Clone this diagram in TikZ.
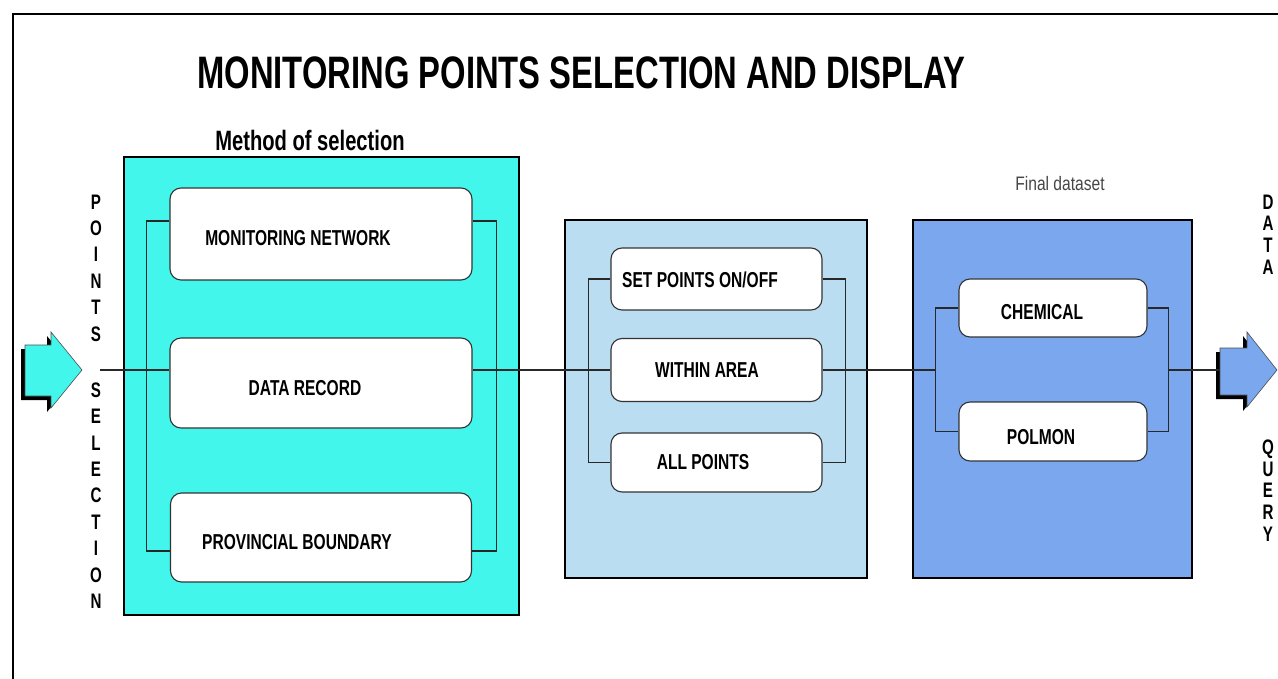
\documentclass[tikz,border=0pt]{standalone}
\usepackage{fontspec}
\setmainfont{Liberation Sans}
\newfontfamily\narrowsans[FakeStretch=0.8]{Liberation Sans}
\newfontfamily\slimsans[FakeStretch=0.72]{Liberation Sans}
\definecolor{panelcyan}{RGB}{66,246,236}
\definecolor{panelsky}{RGB}{186,221,241}
\definecolor{panelblue}{RGB}{122,167,238}
\definecolor{wirecol}{RGB}{40,40,40}
\definecolor{captiongray}{RGB}{70,70,70}
\tikzset{
  panel/.style={draw=black, line width=1.3pt, inner sep=0pt, rectangle},
  choice/.style={draw=black!80, fill=white, rounded corners=11pt, line width=1.1pt, inner sep=0pt, rectangle},
  ctext/.style={font=\slimsans\bfseries\fontsize{21.6}{21.6}\selectfont, inner sep=0pt},
  wire/.style={draw=wirecol, line width=1.3pt},
  stack/.style={font=\slimsans\bfseries\fontsize{21}{21.8}\selectfont, align=center, inner sep=0pt, anchor=north},
  widestack/.style={stack, font=\slimsans\bfseries\fontsize{21}{26.4}\selectfont},
  blockarrow/.style={draw=black!70, line width=0.6pt, line join=miter},
  arrowshadow/.style={fill=black, draw=none}
}
\begin{document}
\begin{tikzpicture}[x=1pt, y=-1pt]
  \useasboundingbox (0,0) rectangle (1278,679);
  \fill[white] (0,0) rectangle (1278,679);

  % outer frame (open to the right and bottom)
  \draw[line width=1.8pt] (13,679) -- (13,14) -- (1278,14);

  % title and captions
  \node[inner sep=0pt, font=\slimsans\bfseries\fontsize{45.5}{45.5}\selectfont] (title) at (581.5,73) {MONITORING POINTS SELECTION AND DISPLAY};
  \node[inner sep=0pt, font=\slimsans\bfseries\fontsize{28}{28}\selectfont] (methodcap) at (310,140) {Method of selection};
  \node[inner sep=0pt, text=captiongray, font=\narrowsans\fontsize{19.5}{19.5}\selectfont] (finalcap) at (1060,184) {Final dataset};

  % coloured panels
  \node[panel, fill=panelcyan, minimum width=395pt, minimum height=458pt] (method) at (321.5,386) {};
  \node[panel, fill=panelsky, minimum width=302pt, minimum height=358pt] (filter) at (716,399) {};
  \node[panel, fill=panelblue, minimum width=279pt, minimum height=358pt] (final) at (1052.5,399) {};

  % input arrow
  \fill[arrowshadow, shift={(-4,4)}] (25,345) -- (51,345) -- (51,332) -- (82,370) -- (51,408) -- (51,396) -- (25,396) -- cycle;
  \filldraw[blockarrow, fill=panelcyan] (25,345) -- (51,345) -- (51,332) -- (82,370) -- (51,408) -- (51,396) -- (25,396) -- cycle;
  % output arrow
  \fill[arrowshadow, shift={(-4,4)}] (1220,348) -- (1247,348) -- (1247,332) -- (1277,370) -- (1247,407) -- (1247,395) -- (1220,395) -- cycle;
  \filldraw[blockarrow, fill=panelblue] (1220,348) -- (1247,348) -- (1247,332) -- (1277,370) -- (1247,407) -- (1247,395) -- (1220,395) -- cycle;
  \coordinate (feed) at (100,370);
  \coordinate (outarrow) at (1220,370);

  % selection choices
  \node[choice, minimum width=302pt, minimum height=92pt] (mn) at (321,234) {};
  \node[choice, minimum width=302pt, minimum height=90pt] (dr) at (321,383) {};
  \node[choice, minimum width=301pt, minimum height=89pt] (pb) at (321,537.5) {};

  % point filters
  \node[choice, minimum width=211pt, minimum height=62pt] (sp) at (716.5,279) {};
  \node[choice, minimum width=211pt, minimum height=63pt] (wa) at (716.5,370) {};
  \node[choice, minimum width=211pt, minimum height=59pt] (ap) at (716.5,462.5) {};

  % final datasets
  \node[choice, minimum width=188pt, minimum height=58pt] (ch) at (1053,308) {};
  \node[choice, minimum width=188pt, minimum height=59pt] (po) at (1053,431.5) {};

  % main flow line
  \draw[wire] (feed) -- (feed -| dr.west);
  \draw[wire] (feed -| dr.east) -- (feed -| wa.west);
  \draw[wire] (feed -| wa.east) -- ([xshift=-23pt]ch.west |- feed);
  \draw[wire] ([xshift=21pt]ch.east |- outarrow) -- (outarrow);

  % branch brackets
  \draw[wire] ([yshift=13pt]mn.west) -- ++(-23,0) |- ([yshift=-13.5pt]pb.west);
  \draw[wire] ([yshift=13pt]mn.east) -- ++(24,0) |- ([yshift=-13.5pt]pb.east);
  \draw[wire] (sp.west) -- ++(-22,0) |- (ap.west);
  \draw[wire] (sp.east) -- ++(23,0) |- (ap.east);
  \draw[wire] (ch.west) -- ++(-23,0) |- (po.west);
  \draw[wire] (ch.east) -- ++(21,0) |- (po.east);

  % box labels
  \node[ctext] (mnt) at (298,238) {MONITORING NETWORK};
  \node[ctext] (drt) at (305,388) {DATA RECORD};
  \node[ctext] (pbt) at (297,542) {PROVINCIAL BOUNDARY};
  \node[ctext] (spt) at (700,280) {SET POINTS ON/OFF};
  \node[ctext] (wat) at (707,370) {WITHIN AREA};
  \node[ctext] (apt) at (703,462) {ALL POINTS};
  \node[ctext] (cht) at (1042,312) {CHEMICAL};
  \node[ctext] (pot) at (1041,437) {POLMON};

  % vertical side labels
  \node[widestack] (pointslbl) at (96,194.5) {P\\O\\I\\N\\T\\S};
  \node[widestack] (selectlbl) at (96,382.5) {S\\E\\L\\E\\C\\T\\I\\O\\N};
  \node[stack] (datalbl) at (1268,194.5) {D\\A\\T\\A};
  \node[stack] (querylbl) at (1268,439.5) {Q\\U\\E\\R\\Y};
\end{tikzpicture}
\end{document}
